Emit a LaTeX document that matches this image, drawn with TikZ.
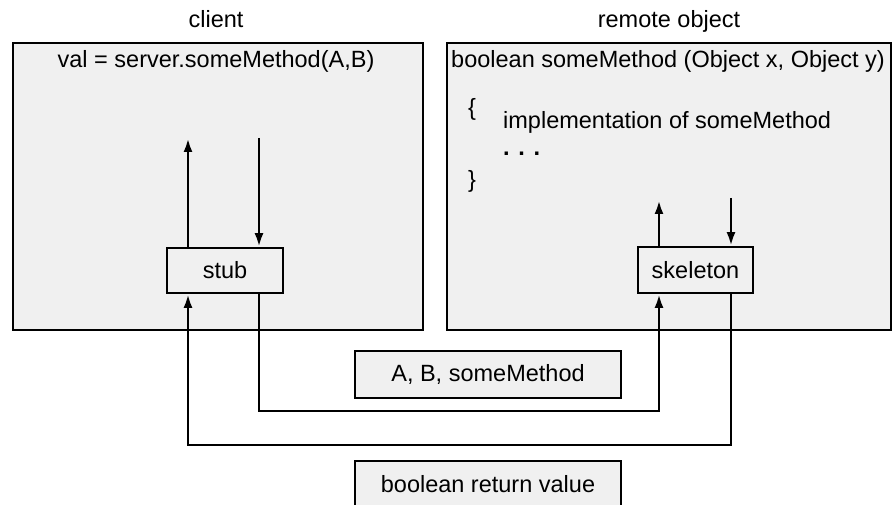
\documentclass[tikz,border=0pt]{standalone}
\usepackage{fontspec}
\setmainfont{Liberation Sans}
\usetikzlibrary{arrows.meta}

\begin{document}
\begin{tikzpicture}[
    x=1pt, y=-1pt,
    panel/.style={rectangle, draw, line width=1.8pt, fill=black!6},
    box/.style={rectangle, draw, line width=1.8pt, fill=black!6,
                inner sep=0pt, font=\fontsize{23.5}{28}\selectfont},
    txt/.style={inner sep=0pt, font=\fontsize{23.5}{28}\selectfont},
    flow/.style={line width=2.8pt},
    >={Latex[length=14pt, width=9pt]}
]
\useasboundingbox (0,0) rectangle (892,505);

% Paneles
\node[panel, minimum width=410pt, minimum height=287pt] (client) at (218,186.5) {};
\node[panel, minimum width=444pt, minimum height=287pt] (remote) at (669,186.5) {};

\node[txt, anchor=base] (clientlbl) at (216,28) {client};
\node[txt, anchor=base] (remotelbl) at (669,28) {remote object};

% Codigo
\node[txt, anchor=base] (call) at (216,68) {val = server.someMethod(A,B)};
\node[txt, anchor=base west] (decl) at (451,68) {boolean someMethod (Object x, Object y)};
\node[txt] (obrace) at (472,109) {\{};
\node[txt, anchor=base west] (impl) at (503,129) {implementation of someMethod};
\node[txt, anchor=base west] (dots) at (503,156) {\textbf{. . .}};
\node[txt] (cbrace) at (472,181) {\}};

% Stub y skeleton
\node[box, minimum width=116pt, minimum height=45pt] (stub) at (225,270.5) {stub};
\node[box, minimum width=115pt, minimum height=46pt] (skel) at (695.5,270) {skeleton};

% Mensajes
\node[box, minimum width=266pt, minimum height=47pt] (args) at (488,374.5) {A, B, someMethod};
\node[box, minimum width=266pt, minimum height=47pt] (ret) at (488,484.5) {boolean return value};

% Flechas
\coordinate (cup) at (188,138);
\coordinate (cdown) at (259,138);
\coordinate (sup) at (659,200);
\coordinate (sdown) at (731,198);
\coordinate (callrow) at (0,411);
\coordinate (retrow) at (0,445);

\draw[flow, ->] (stub.north -| cup) -- (cup);
\draw[flow, ->] (cdown) -- (stub.north -| cdown);
\draw[flow, ->] (skel.north -| sup) -- (sup);
\draw[flow, ->] (sdown) -- (skel.north -| sdown);

\draw[flow, ->] (stub.south -| cdown) |- (callrow -| sup) -- (skel.south -| sup);
\draw[flow, ->] (skel.south -| sdown) |- (retrow -| cup) -- (stub.south -| cup);

\end{tikzpicture}
\end{document}
